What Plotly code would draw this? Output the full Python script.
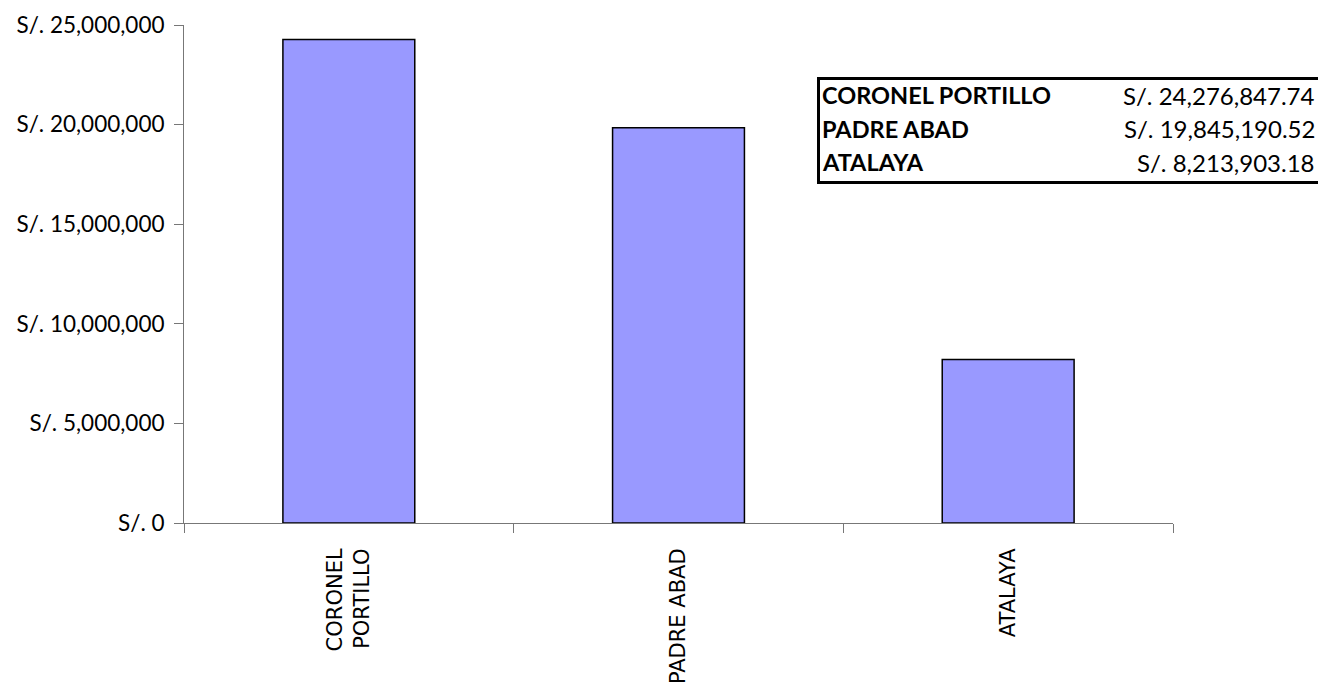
import plotly.graph_objects as go

categories = ["CORONEL PORTILLO", "PADRE ABAD", "ATALAYA"]
tick_labels = ["CORONEL<br>PORTILLO", "PADRE ABAD", "ATALAYA"]
values = [24276847.74, 19845190.52, 8213903.18]
y_ticks = [0, 5000000, 10000000, 15000000, 20000000, 25000000]
y_tick_text = ["S/. " + f"{v:,}" for v in y_ticks]

fig = go.Figure()
fig.add_trace(go.Bar(
    x=categories, y=values, width=0.4,
    marker=dict(color="#9999FF", line=dict(color="black", width=1.5)),
    showlegend=False,
))

# page has an 8px body margin; compensate so plot area lands at x 184..1173, y 25..523
fig.update_layout(
    width=1318, height=678,
    margin=dict(l=176, r=153, t=17, b=163, autoexpand=False),
    plot_bgcolor="white", paper_bgcolor="white",
    font=dict(family="Lato", color="black"),
    xaxis=dict(
        tickmode="array", tickvals=categories, ticktext=tick_labels,
        tickangle=-90, tickson="boundaries", ticks="outside", ticklen=9,
        tickcolor="#777", showline=True, linecolor="#777", linewidth=1,
        tickfont=dict(family="DejaVu Sans", size=21), showgrid=False,
        ticklabelstandoff=16, automargin=False,
    ),
    yaxis=dict(
        range=[0, 25000000], tickmode="array", tickvals=y_ticks,
        ticktext=y_tick_text, ticks="outside", ticklen=9, tickcolor="#777",
        showline=True, linecolor="#777", linewidth=1, showgrid=False,
        zeroline=False, tickfont=dict(family="Lato", size=22.5),
        ticklabelstandoff=5, automargin=False,
    ),
)

def px_x(px):
    return (px - 184) / 989

def px_y(py):
    return (523 - py) / 498

fig.add_shape(type="rect", xref="paper", yref="paper",
              x0=px_x(818.5), x1=px_x(1322.5), y0=px_y(182.5), y1=px_y(78.5),
              line=dict(color="black", width=3), fillcolor="white", layer="above")

row_y = [95.5, 128.5, 162]
for name, val, py in zip(categories, values, row_y):
    fig.add_annotation(xref="paper", yref="paper", x=px_x(820), y=px_y(py),
                       text="<b>" + name + "</b>", showarrow=False,
                       xanchor="left", yanchor="middle",
                       font=dict(family="Lato", size=23.5, color="black"))
    fig.add_annotation(xref="paper", yref="paper", x=px_x(1317), y=px_y(py),
                       text="S/. " + f"{val:,.2f}", showarrow=False,
                       xanchor="right", yanchor="middle",
                       font=dict(family="Lato", size=24, color="black"))

fig.write_html("out.html")
